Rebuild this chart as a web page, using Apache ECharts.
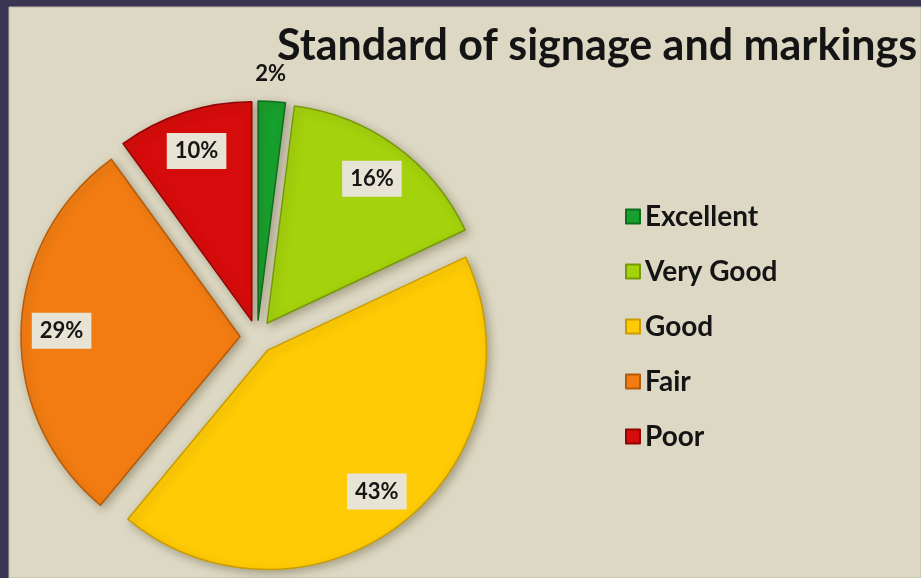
<!DOCTYPE html>
<html>
<head>
<meta charset="utf-8">
<script src="https://cdn.jsdelivr.net/npm/echarts@6/dist/echarts.min.js"></script>
<style>
  html, body { margin: 0; padding: 0; background: #3a3552; }
  #chart { width: 921px; height: 578px; }
</style>
</head>
<body>
<div id="chart"></div>
<script>
// Survey answers: rating category and its share of responses (%)
const categories = ['Excellent', 'Very Good', 'Good', 'Fair', 'Poor'];
const shares = [2, 16, 43, 29, 10];
const chartTitle = 'Standard of signage and markings';

// Slice fills and their darker rims
const sliceColors = ['#17a02d', '#a4d20c', '#ffcb05', '#f27c12', '#d60b0b'];
const rimColors = ['#0d6e1d', '#76990a', '#c99d00', '#b65a08', '#900404'];

const FONT = 'Lato, "Open Sans", sans-serif';
const total = shares.reduce((a, b) => a + b, 0);

// Angle (radians, clockwise from 12 o'clock) through the middle of a slice
function midAngle(i) {
  let before = 0;
  for (let k = 0; k < i; k++) before += shares[k];
  return (before + shares[i] / 2) / total * 2 * Math.PI;
}

const chart = echarts.init(document.getElementById('chart'), null, { renderer: 'canvas' });

chart.setOption({
  animation: false,
  backgroundColor: '#3a3552',
  graphic: [{
    type: 'rect',
    z: -10,
    shape: { x: 9, y: 7, width: 912, height: 571 },
    style: { fill: '#ddd8c3', stroke: '#bdb7a2', lineWidth: 1 }
  }],
  title: {
    text: chartTitle,
    left: 272,
    top: 20,
    textStyle: { fontFamily: FONT, fontWeight: 'bold', fontSize: 43, color: '#141414' }
  },
  legend: {
    orient: 'vertical',
    left: 620,
    top: 196,
    itemWidth: 14,
    itemHeight: 14,
    itemGap: 24,
    icon: 'rect',
    data: categories,
    textStyle: { fontFamily: FONT, fontWeight: 'bold', fontSize: 28, lineHeight: 31, color: '#141414' }
  },
  series: [{
    type: 'pie',
    center: [257, 337],
    radius: 219,
    startAngle: 90,
    clockwise: true,
    selectedMode: 'multiple',
    selectedOffset: 17,
    avoidLabelOverlap: false,
    itemStyle: {
      borderWidth: 1.5,
      shadowBlur: 8,
      shadowOffsetX: 3,
      shadowOffsetY: 3,
      shadowColor: 'rgba(70, 60, 30, 0.35)'
    },
    label: {
      show: true,
      position: 'inside',
      formatter: '{c}%',
      fontFamily: FONT,
      fontWeight: 'bold',
      fontSize: 22,
      color: '#151515',
      backgroundColor: '#e8e4d5',
      padding: [8, 8, 6, 8]
    },
    labelLine: { show: false },
    emphasis: { disabled: true },
    // Labels sit near the rim; very thin slices get theirs just outside
    labelLayout: function (p) {
      const a = midAngle(p.dataIndex);
      const push = shares[p.dataIndex] / total < 0.05 ? 134 : 66;
      return { dx: push * Math.sin(a) - (shares[p.dataIndex] / total < 0.05 ? 3 : 0), dy: -push * Math.cos(a) };
    },
    data: categories.map((name, i) => ({
      name: name,
      value: shares[i],
      selected: true,
      itemStyle: { color: sliceColors[i], borderColor: rimColors[i] },
      select: { itemStyle: { color: sliceColors[i], borderColor: rimColors[i], borderWidth: 1.5 } },
      label: shares[i] / total < 0.05 ? { backgroundColor: 'transparent' } : {}
    }))
  }]
});
</script>
</body>
</html>
